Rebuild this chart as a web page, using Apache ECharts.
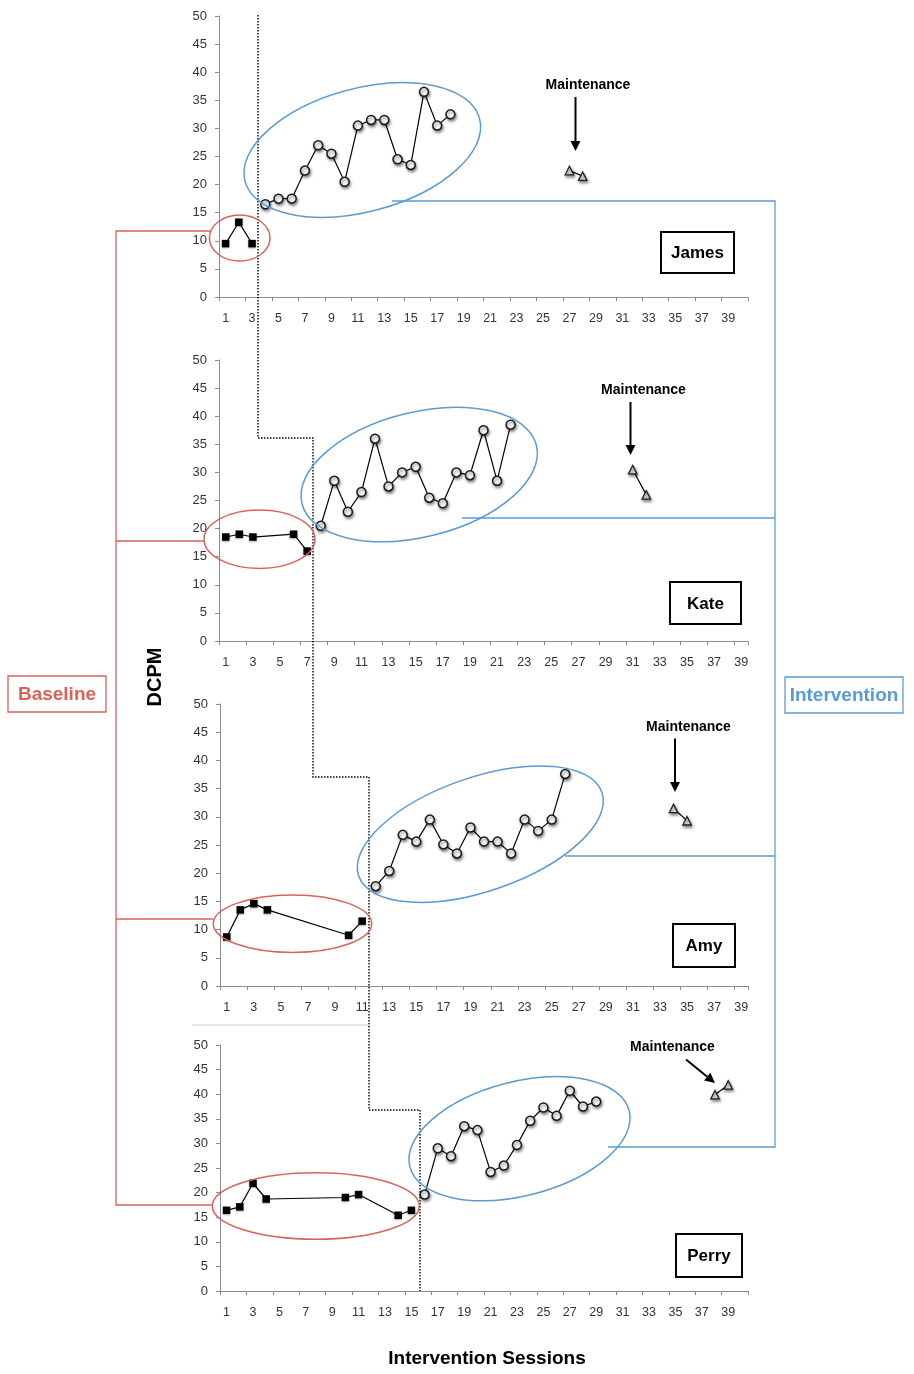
<!DOCTYPE html>
<html>
<head>
<meta charset="utf-8">
<script src="https://cdn.jsdelivr.net/npm/echarts@6/dist/echarts.min.js"></script>
<style>
  html, body { margin: 0; padding: 0; background: #fff; }
  #chart { width: 914px; height: 1374px; }
</style>
</head>
<body>
<div id="chart"></div>
<script>
// Session categories (tick labels) for the two axis lengths used
const sessions40 = ['1','2','3','4','5','6','7','8','9','10','11','12','13','14','15','16','17','18','19','20',
  '21','22','23','24','25','26','27','28','29','30','31','32','33','34','35','36','37','38','39','40'];
const sessions39 = sessions40.slice(0, 39);

// James
const jamesBaseX = [1, 2, 3];
const jamesBaseY = [9.5, 13.3, 9.5];
const jamesIntX = [4, 5, 6, 7, 8, 9, 10, 11, 12, 13, 14, 15, 16, 17, 18];
const jamesIntY = [16.5, 17.5, 17.5, 22.5, 27, 25.5, 20.5, 30.5, 31.5, 31.5, 24.5, 23.5, 36.5, 30.5, 32.5];
const jamesMaintX = [27, 28];
const jamesMaintY = [22.5, 21.5];

// Kate
const kateBaseX = [1, 2, 3, 6, 7];
const kateBaseY = [18.5, 19, 18.5, 19, 16];
const kateIntX = [8, 9, 10, 11, 12, 13, 14, 15, 16, 17, 18, 19, 20, 21, 22];
const kateIntY = [20.5, 28.5, 23, 26.5, 36, 27.5, 30, 31, 25.5, 24.5, 30, 29.5, 37.5, 28.5, 38.5];
const kateMaintX = [31, 32];
const kateMaintY = [30.5, 26];

// Amy
const amyBaseX = [1, 2, 3, 4, 10, 11];
const amyBaseY = [8.7, 13.5, 14.6, 13.5, 9, 11.5];
const amyIntX = [12, 13, 14, 15, 16, 17, 18, 19, 20, 21, 22, 23, 24, 25, 26];
const amyIntY = [17.7, 20.4, 26.8, 25.6, 29.5, 25.1, 23.5, 28.1, 25.6, 25.6, 23.5, 29.5, 27.5, 29.5, 37.6];
const amyMaintX = [34, 35];
const amyMaintY = [31.5, 29.3];

// Perry
const perryBaseX = [1, 2, 3, 4, 10, 11, 14, 15];
const perryBaseY = [16.4, 17.1, 21.9, 18.7, 19, 19.6, 15.4, 16.4];
const perryIntX = [16, 17, 18, 19, 20, 21, 22, 23, 24, 25, 26, 27, 28, 29];
const perryIntY = [19.6, 29, 27.4, 33.5, 32.7, 24.2, 25.5, 29.7, 34.6, 37.3, 35.6, 40.7, 37.5, 38.5];
const perryMaintX = [38, 39];
const perryMaintY = [39.9, 41.9];

const panelNames = ['James', 'Kate', 'Amy', 'Perry'];

const FONT = "'Liberation Sans', Arial, sans-serif";
const RED = '#d9625a';
const BLUE = '#5b9bd5';

const panels = [
  { cats: sessions40, grid: { left: 219, top: 16, width: 529, height: 281 },
    base: [jamesBaseX, jamesBaseY], int: [jamesIntX, jamesIntY], maint: [jamesMaintX, jamesMaintY] },
  { cats: sessions39, grid: { left: 219, top: 360, width: 529, height: 281 },
    base: [kateBaseX, kateBaseY], int: [kateIntX, kateIntY], maint: [kateMaintX, kateMaintY] },
  { cats: sessions39, grid: { left: 220, top: 704, width: 528, height: 282 },
    base: [amyBaseX, amyBaseY], int: [amyIntX, amyIntY], maint: [amyMaintX, amyMaintY] },
  { cats: sessions40, grid: { left: 220, top: 1045, width: 528, height: 246 },
    base: [perryBaseX, perryBaseY], int: [perryIntX, perryIntY], maint: [perryMaintX, perryMaintY] }
];

const pairs = (xs, ys) => xs.map((x, i) => [String(x), ys[i]]);

const grids = [], xAxes = [], yAxes = [], series = [];
const axisGray = '#8c8c8c';

panels.forEach((p, i) => {
  grids.push(Object.assign({ containLabel: false }, p.grid));
  xAxes.push({
    type: 'category', gridIndex: i, data: p.cats, boundaryGap: true,
    axisLine: { lineStyle: { color: axisGray, width: 1 } },
    axisTick: { show: true, length: 4, lineStyle: { color: axisGray } },
    axisLabel: { interval: 1, color: '#333', fontSize: 12.5, fontFamily: FONT, margin: 15 },
    splitLine: { show: false }
  });
  yAxes.push({
    type: 'value', gridIndex: i, min: 0, max: 50, interval: 5,
    axisLine: { show: true, lineStyle: { color: axisGray, width: 1 } },
    axisTick: { show: true, length: 4, lineStyle: { color: axisGray } },
    axisLabel: { color: '#333', fontSize: 13, fontFamily: FONT, margin: 12 },
    splitLine: { show: false }
  });
  const common = {
    type: 'line', xAxisIndex: i, yAxisIndex: i, showAllSymbol: true,
    lineStyle: { color: '#000', width: 1.2 }, animation: false, silent: true, z: 3
  };
  series.push(Object.assign({}, common, {
    name: panelNames[i] + ' baseline', data: pairs(p.base[0], p.base[1]),
    symbol: 'rect', symbolSize: 7.5,
    itemStyle: { color: '#000', shadowBlur: 2, shadowColor: 'rgba(0,0,0,0.35)', shadowOffsetY: 1 }
  }));
  series.push(Object.assign({}, common, {
    name: panelNames[i] + ' intervention', data: pairs(p.int[0], p.int[1]),
    symbol: 'circle', symbolSize: 9,
    itemStyle: { color: '#fafafa', borderColor: '#1a1a1a', borderWidth: 1.5,
      shadowBlur: 3, shadowColor: 'rgba(0,0,0,0.45)', shadowOffsetX: 1, shadowOffsetY: 2 }
  }));
  series.push(Object.assign({}, common, {
    name: panelNames[i] + ' maintenance', data: pairs(p.maint[0], p.maint[1]),
    symbol: 'triangle', symbolSize: 8.5,
    itemStyle: { color: '#e8e8e8', borderColor: '#222', borderWidth: 1.3,
      shadowBlur: 3, shadowColor: 'rgba(0,0,0,0.45)', shadowOffsetX: 1, shadowOffsetY: 2 }
  }));
});

// ---- annotation layer ----
const g = [];
const line = (pts, color, width, dash) => g.push({
  type: 'polyline', z: 50, silent: true, shape: { points: pts },
  style: { stroke: color, lineWidth: width, fill: null, lineDash: dash || null }
});
const ellipse = (cx, cy, rx, ry, deg, color) => g.push({
  type: 'ellipse', z: 50, silent: true, x: cx, y: cy, rotation: deg * Math.PI / 180,
  shape: { cx: 0, cy: 0, rx: rx, ry: ry },
  style: { fill: null, stroke: color, lineWidth: 1.5 }
});
const text = (str, x, y, size, color, opts) => g.push(Object.assign({
  type: 'text', z: 60, silent: true, x: x, y: y,
  style: { text: str, fill: color, font: 'bold ' + size + 'px ' + FONT,
    textAlign: 'center', textVerticalAlign: 'middle', align: 'center', verticalAlign: 'middle' }
}, opts || {}));
const box = (x, y, w, h, color, width) => g.push({
  type: 'rect', z: 55, silent: true, shape: { x: x, y: y, width: w, height: h },
  style: { fill: '#fff', stroke: color, lineWidth: width }
});
const arrow = (x1, y1, x2, y2) => {
  const ang = Math.atan2(y2 - y1, x2 - x1);
  const hl = 10, hw = 5;
  const bx = x2 - hl * Math.cos(ang), by = y2 - hl * Math.sin(ang);
  line([[x1, y1], [bx, by]], '#000', 2);
  g.push({
    type: 'polygon', z: 50, silent: true,
    shape: { points: [[x2, y2],
      [bx + hw * Math.sin(ang), by - hw * Math.cos(ang)],
      [bx - hw * Math.sin(ang), by + hw * Math.cos(ang)]] },
    style: { fill: '#000' }
  });
};

// phase-change staircase
line([[258, 15], [258, 438], [313, 438], [313, 777], [369, 777], [369, 1110], [420, 1110], [420, 1291]],
  '#000', 1.4, [1.5, 1.5]);
// faint separator
line([[192, 1025], [370, 1025]], '#cfcfcf', 1);

// baseline ellipses and bracket
ellipse(239.7, 238, 30.3, 23, 0, RED);
ellipse(259.5, 539.2, 55.5, 29.2, 0, RED);
ellipse(292.5, 923.7, 79.2, 28.7, 0, RED);
ellipse(315.8, 1206, 103.5, 33.3, 0, RED);
line([[210, 231], [116, 231], [116, 1205], [212, 1205]], RED, 1.3);
line([[116, 541], [204, 541]], RED, 1.3);
line([[116, 919], [213, 919]], RED, 1.3);

// intervention ellipses and bracket
ellipse(362.3, 150, 121.4, 61.6, 15, BLUE);
ellipse(419.2, 474.5, 120.8, 62.3, 14, BLUE);
ellipse(480.3, 834.2, 128.6, 56.9, 19, BLUE);
ellipse(519.5, 1138.7, 113.2, 57, 14.4, BLUE);
line([[392, 201], [775, 201], [775, 1147], [608, 1147]], BLUE, 1.3);
line([[462, 518], [775, 518]], BLUE, 1.3);
line([[565, 856], [775, 856]], BLUE, 1.3);

// phase legend boxes
box(8, 676, 98, 36, RED, 1.3);
text('Baseline', 57, 694.5, 19, RED);
box(785, 677, 118, 36, BLUE, 1.3);
text('Intervention', 844, 695.5, 19, BLUE);

// participant name boxes
[[661, 232, 73, 41, 'James'], [670, 582, 71, 42, 'Kate'], [673, 924, 62, 43, 'Amy'], [676, 1234, 66, 43, 'Perry']]
  .forEach(b => { box(b[0], b[1], b[2], b[3], '#000', 2); text(b[4], b[0] + b[2] / 2, b[1] + b[3] / 2 + 1, 17, '#000'); });

// maintenance callouts
text('Maintenance', 588, 85, 14, '#000');
arrow(575.5, 97, 575.5, 151);
text('Maintenance', 643.5, 390, 14, '#000');
arrow(630.5, 402, 630.5, 455);
text('Maintenance', 688.5, 727, 14, '#000');
arrow(675, 738.5, 675, 792);
text('Maintenance', 672.5, 1047, 14, '#000');
arrow(686, 1059.5, 715, 1083);

// axis titles
text('DCPM', 155.5, 677, 20, '#000', { rotation: Math.PI / 2 });
text('Intervention Sessions', 487, 1359, 19, '#000');

const chart = echarts.init(document.getElementById('chart'), null, { renderer: 'canvas' });
chart.setOption({
  animation: false,
  backgroundColor: '#fff',
  grid: grids,
  xAxis: xAxes,
  yAxis: yAxes,
  series: series,
  graphic: { elements: g }
});
</script>
</body>
</html>
